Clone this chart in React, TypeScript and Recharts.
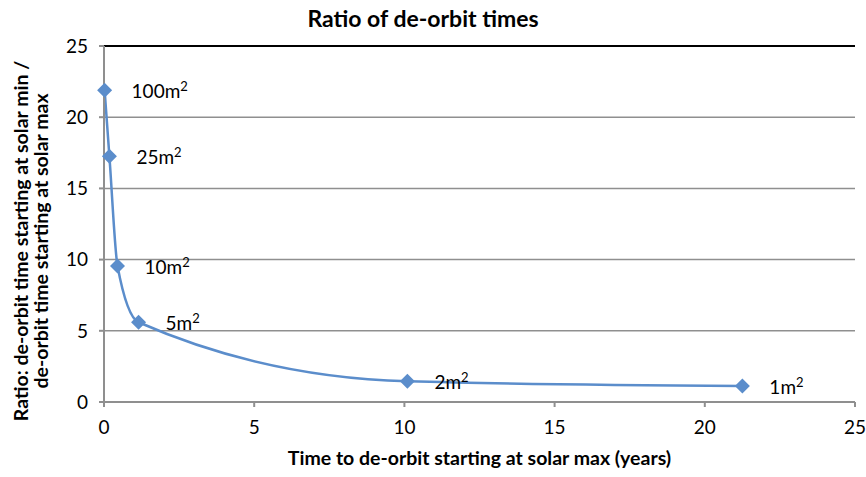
import React from "react";
import { LineChart, Line, XAxis, YAxis, CartesianGrid, LabelList, ReferenceLine } from "recharts";

const sizes = ["100", "25", "10", "5", "2", "1"];
const timeAtSolarMax = [0.02, 0.18, 0.45, 1.15, 10.1, 21.25];
const ratios = [21.9, 17.25, 9.55, 5.6, 1.45, 1.12];
const xTicks = [0, 5, 10, 15, 20, 25];
const yTicks = [0, 5, 10, 15, 20, 25];

const data = sizes.map((s, i) => ({ size: s, x: timeAtSolarMax[i], y: ratios[i] }));

const FONT = "Lato, 'Open Sans', sans-serif";
const COLOR = "#5B8DCB";

const Diamond = (props: any) => {
  const { cx, cy } = props;
  if (cx == null || cy == null) return null;
  const r = 7.5;
  return <polygon points={`${cx},${cy - r} ${cx + r},${cy} ${cx},${cy + r} ${cx - r},${cy}`} fill={COLOR} />;
};

const SizeLabel = (props: any) => {
  const { x, y, value } = props;
  return (
    <text x={x + 27} y={y + 8} fontSize={19} fontFamily={FONT} fill="#000">
      {value}m<tspan dy={-7} fontSize={13}>2</tspan>
    </text>
  );
};

export default function App() {
  return (
    <div style={{ position: "relative", width: 866, height: 477, background: "#fff" }}>
      <style>{`body{margin:0}`}</style>
      <svg style={{ position: "absolute", left: 0, top: 0, pointerEvents: "none" }} width={866} height={477}>
        <text x={423} y={27} textAnchor="middle" fontFamily={FONT} fontWeight={700} fontSize={23} fill="#000">
          Ratio of de-orbit times
        </text>
      </svg>
      <div style={{ position: "absolute", left: 0, top: 0 }}>
        <LineChart width={866} height={477} data={data} margin={{ top: 46, right: 11, bottom: 5, left: 44 }}>
          <CartesianGrid vertical={false} stroke="#8f8f8f" strokeWidth={1.5} />
          <XAxis
            type="number"
            dataKey="x"
            domain={[0, 25]}
            ticks={xTicks}
            height={70}
            stroke="#8f8f8f"
            strokeWidth={2}
            tickSize={5}
            tickMargin={14}
            tick={{ fill: "#000", fontSize: 19, fontFamily: FONT }}
            label={{ value: "Time to de-orbit starting at solar max (years)", position: "insideBottom", offset: 7, fill: "#000", fontSize: 19.5, fontWeight: 700, fontFamily: FONT }}
          />
          <YAxis
            type="number"
            domain={[0, 25]}
            ticks={yTicks}
            width={60}
            stroke="#8f8f8f"
            strokeWidth={2}
            tickSize={5}
            tickMargin={11}
            tick={{ fill: "#000", fontSize: 19, fontFamily: FONT }}
          />
          <ReferenceLine y={25} stroke="#000" strokeWidth={2} />
          <Line type="monotone" dataKey="y" stroke={COLOR} strokeWidth={2.5} dot={<Diamond />} activeDot={false} isAnimationActive={false}>
            <LabelList dataKey="size" content={<SizeLabel />} />
          </Line>
        </LineChart>
      </div>
      <svg style={{ position: "absolute", left: 0, top: 0, pointerEvents: "none" }} width={60} height={477}>
        <text transform="translate(28,241) rotate(-90)" textAnchor="middle" fontFamily={FONT} fontWeight={700} fontSize={19.5} fill="#000">
          Ratio: de-orbit time starting at solar min /
        </text>
        <text transform="translate(48,241) rotate(-90)" textAnchor="middle" fontFamily={FONT} fontWeight={700} fontSize={19.5} fill="#000">
          de-orbit time starting at solar max
        </text>
      </svg>
    </div>
  );
}
